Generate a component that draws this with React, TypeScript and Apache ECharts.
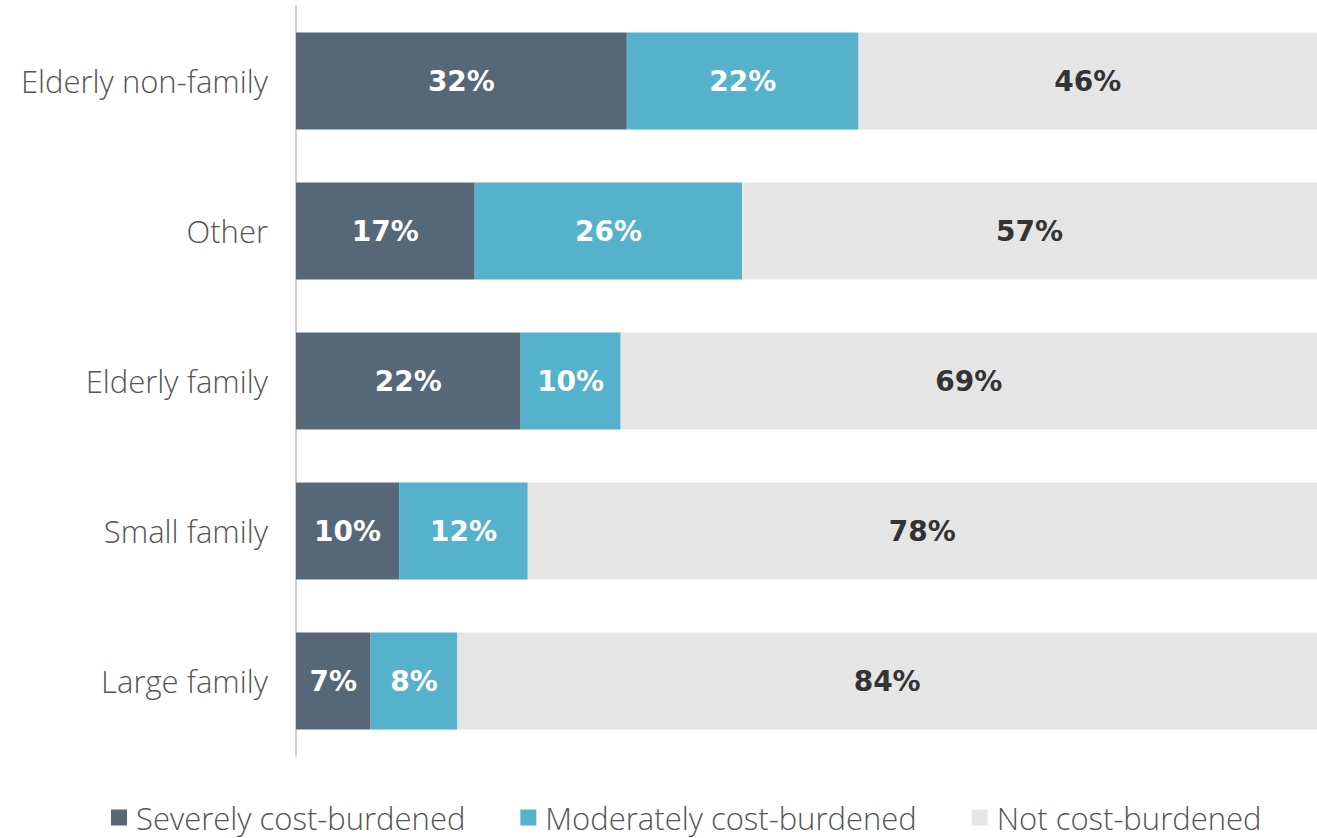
import React, { useEffect, useRef } from "react";
import * as echarts from "echarts";

const categories = ["Elderly non-family", "Other", "Elderly family", "Small family", "Large family"];
// bar widths (share of households, %)
const severe = [32.4, 17.5, 22.0, 10.1, 7.3];
const moderate = [22.7, 26.2, 9.8, 12.6, 8.5];
const notBurdened = [44.9, 56.3, 68.2, 77.3, 84.2];
// printed labels
const severeLabels = ["32%", "17%", "22%", "10%", "7%"];
const moderateLabels = ["22%", "26%", "10%", "12%", "8%"];
const notBurdenedLabels = ["46%", "57%", "69%", "78%", "84%"];
const seriesNames = ["Severely cost-burdened", "Moderately cost-burdened", "Not cost-burdened"];

export default function App() {
  const ref = useRef<HTMLDivElement>(null);
  useEffect(() => {
    const chart = echarts.init(ref.current!, null, { renderer: "svg" });
    const font = "'Open Sans', Lato, sans-serif";
    const valueFont = "'DejaVu Sans', 'Open Sans', sans-serif";
    const mk = (name: string, data: number[], labels: string[], color: string, labelColor: string) => ({
      name,
      type: "bar",
      stack: "total",
      data,
      barWidth: 97,
      itemStyle: { color },
      label: {
        show: true,
        position: "inside",
        formatter: (p: any) => labels[p.dataIndex],
        color: labelColor,
        fontFamily: valueFont,
        fontWeight: "bold",
        fontSize: 28,
      },
    });
    chart.setOption({
      animation: false,
      grid: { left: 296, right: 0, top: 6, bottom: 82, containLabel: false },
      xAxis: {
        type: "value",
        min: 0,
        max: 100,
        show: false,
      },
      yAxis: {
        type: "category",
        data: categories,
        inverse: true,
        axisLine: { show: true, lineStyle: { color: "#d0d0d0", width: 2 } },
        axisTick: { show: false },
        axisLabel: { color: "#555", fontFamily: font, fontWeight: 300, fontSize: 31, margin: 28 },
      },
      legend: {
        bottom: 0,
        left: 106,
        itemWidth: 16,
        itemHeight: 16,
        itemGap: 55,
        icon: "rect",
        textStyle: { color: "#555", fontFamily: font, fontWeight: 300, fontSize: 31, padding: [0, 0, 0, 4] },
        data: seriesNames,
      },
      series: [
        mk(seriesNames[0], severe, severeLabels, "#566878", "#ffffff"),
        mk(seriesNames[1], moderate, moderateLabels, "#55B1CC", "#ffffff"),
        mk(seriesNames[2], notBurdened, notBurdenedLabels, "#E5E5E5", "#333333"),
      ],
    });
    return () => chart.dispose();
  }, []);
  return (
    <div
      ref={ref}
      style={{ position: "fixed", left: 0, top: 0, width: 1317, height: 838, background: "#fff" }}
    />
  );
}
